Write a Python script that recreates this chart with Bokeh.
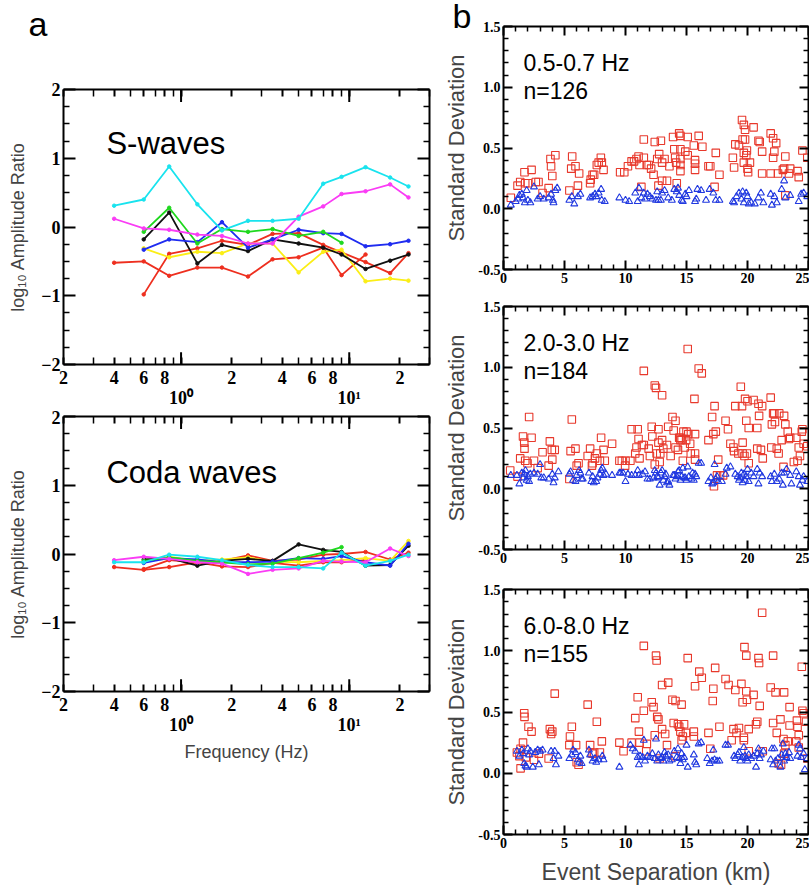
from bokeh.plotting import figure
from bokeh.models import (FixedTicker, LinearAxis, LogAxis, Label, CustomJSTickFormatter,
                          NumeralTickFormatter, Range1d, Title)
from bokeh.layouts import row, column
from bokeh.embed import file_html
from bokeh.resources import INLINE

NaN = float("nan")

# ---------------- panel a : amplitude ratios ----------------
freq = [0.4, 0.6, 0.85, 1.25, 1.75, 2.5, 3.5, 5.0, 7.0, 9.0, 12.5, 17.5, 22.5]

s_cyan = [0.31, 0.40, 0.88, 0.33, -0.05, 0.09, 0.09, 0.12, 0.63, 0.73, 0.87, 0.72, 0.59]
s_magenta = [0.12, -0.02, -0.04, -0.11, -0.13, -0.24, -0.24, 0.15, 0.30, 0.48, 0.52, 0.62, 0.43]
s_green = [NaN, -0.07, 0.28, -0.24, -0.03, -0.07, -0.03, -0.13, -0.07, -0.23, NaN, NaN, NaN]
s_black = [NaN, -0.18, 0.21, -0.53, -0.26, -0.35, -0.18, -0.24, -0.30, -0.40, -0.61, -0.49, -0.40]
s_blue = [NaN, -0.33, -0.18, -0.22, 0.07, -0.30, -0.18, -0.04, -0.09, -0.10, -0.28, -0.25, -0.20]
s_yellow = [NaN, -0.31, -0.44, -0.36, -0.38, -0.24, -0.24, -0.66, -0.36, -0.33, -0.79, -0.75, -0.78]
s_red1 = [-0.52, -0.50, -0.71, -0.59, -0.59, -0.72, -0.47, -0.44, -0.30, -0.70, -0.40, NaN, NaN]
s_red2 = [NaN, -0.98, -0.39, -0.31, -0.20, -0.26, -0.10, -0.09, -0.26, -0.37, -0.51, -0.67, -0.38]

c_cyan = [-0.12, -0.12, -0.01, -0.04, -0.09, -0.16, -0.19, -0.19, -0.21, 0.02, -0.17, -0.10, -0.01]
c_magenta = [-0.09, -0.04, -0.07, -0.12, -0.14, -0.29, -0.23, -0.21, -0.10, -0.11, -0.12, 0.08, -0.03]
c_green = [NaN, -0.10, -0.05, -0.10, -0.12, -0.15, -0.14, -0.06, 0.02, 0.10, NaN, NaN, NaN]
c_black = [NaN, -0.08, -0.06, -0.17, -0.10, -0.07, -0.10, 0.14, 0.06, 0.03, -0.17, -0.16, 0.12]
c_blue = [NaN, -0.13, -0.06, -0.08, -0.12, -0.12, -0.11, -0.06, -0.07, -0.03, -0.12, -0.17, 0.15]
c_yellow = [NaN, -0.12, -0.04, -0.10, -0.08, -0.05, -0.11, -0.12, -0.10, -0.09, -0.06, -0.10, 0.19]
c_red1 = [-0.19, -0.23, -0.19, -0.12, -0.18, -0.19, -0.13, -0.17, -0.12, -0.12, -0.09, NaN, NaN]
c_red2 = [NaN, -0.22, -0.09, -0.12, -0.10, -0.02, -0.10, -0.08, -0.01, 0.00, 0.03, -0.08, 0.02]

line_colors = {"cyan": "#19e3ee", "magenta": "#fa3cf5", "green": "#1ed81e", "black": "#111111",
               "blue": "#1f2cf0", "yellow": "#fbee16", "red1": "#ee2f1f", "red2": "#ee2f1f"}

s_waves = {"cyan": s_cyan, "magenta": s_magenta, "green": s_green, "black": s_black,
           "blue": s_blue, "yellow": s_yellow, "red1": s_red1, "red2": s_red2}
coda_waves = {"cyan": c_cyan, "magenta": c_magenta, "green": c_green, "black": c_black,
              "blue": c_blue, "yellow": c_yellow, "red1": c_red1, "red2": c_red2}

freq_label_ticks = [0.2, 0.4, 0.6, 0.8, 1, 2, 4, 6, 8, 10, 20]
freq_minor_ticks = [0.3, 0.5, 0.7, 0.9, 3, 5, 7, 9, 30]
freq_decades = [1, 10]
amp_major_ticks = [-2, -1, 0, 1, 2]
amp_minor_ticks = [-1.75, -1.5, -1.25, -0.75, -0.5, -0.25, 0.25, 0.5, 0.75, 1.25, 1.5, 1.75]

# ---------------- panel b : standard deviations ----------------
p1_red = [(0.6, 0.09), (1.15, 0.19), (1.37, 0.22), (1.72, 0.30), (1.78, 0.21), (2.0, 0.21), (2.3, 0.32),
          (2.65, 0.22), (2.87, 0.22), (3.2, 0.13), (3.7, 0.17), (3.85, 0.41), (3.9, 0.35), (4.0, 0.27),
          (4.25, 0.44), (5.4, 0.15), (5.55, 0.33), (5.63, 0.43), (5.9, 0.35), (6.1, 0.19), (6.2, 0.29),
          (7.1, 0.21), (7.15, 0.24), (7.3, 0.28), (7.43, 0.28), (7.65, 0.36), (7.8, 0.38), (7.98, 0.42),
          (8.06, 0.38), (8.2, 0.32), (9.56, 0.30), (9.9, 0.30), (10.2, 0.35), (10.5, 0.39), (10.7, 0.39),
          (10.9, 0.41), (11.07, 0.43), (11.15, 0.36), (11.3, 0.18), (11.5, 0.42), (11.5, 0.57), (11.75, 0.36),
          (11.9, 0.36), (12.1, 0.33), (12.3, 0.28), (12.4, 0.55), (12.6, 0.41), (12.7, 0.19), (12.76, 0.45),
          (12.9, 0.56), (13.0, 0.38), (13.0, 0.23), (13.2, 0.41), (13.4, 0.23), (13.6, 0.35), (13.9, 0.59),
          (14.0, 0.49), (14.07, 0.42), (14.15, 0.38), (14.2, 0.21), (14.4, 0.62), (14.5, 0.60), (14.5, 0.49),
          (14.5, 0.41), (14.5, 0.36), (14.5, 0.31), (14.9, 0.47), (15.1, 0.44), (15.1, 0.59), (15.6, 0.52),
          (15.7, 0.40), (15.7, 0.37), (15.7, 0.32), (16.0, 0.60), (16.3, 0.51), (16.8, 0.35), (16.95, 0.35),
          (17.3, 0.18), (17.4, 0.46), (17.7, 0.28), (18.8, 0.42), (18.9, 0.34), (19.0, 0.53), (19.3, 0.52),
          (19.55, 0.73), (19.7, 0.69), (19.6, 0.57), (19.8, 0.57), (19.7, 0.46), (19.7, 0.38), (19.8, 0.65),
          (19.9, 0.44), (19.95, 0.48), (20.0, 0.33), (20.05, 0.30), (20.2, 0.38), (20.5, 0.67), (20.9, 0.56),
          (21.0, 0.55), (21.2, 0.47), (21.2, 0.29), (21.9, 0.29), (21.9, 0.62), (22.1, 0.58), (22.2, 0.47),
          (22.1, 0.42), (22.35, 0.54), (22.5, 0.29), (22.9, 0.32), (23.0, 0.33), (23.1, 0.43), (23.1, 0.11),
          (23.4, 0.29), (23.5, 0.33), (24.1, 0.31), (24.2, 0.26), (24.5, 0.48), (24.9, 0.42)]
p1_blue = [(0.6, 0.03), (1.0, 0.06), (1.2, 0.08), (1.3, 0.11), (1.5, 0.12), (1.6, 0.09), (1.75, 0.05),
           (1.9, 0.15), (2.0, 0.07), (2.2, 0.05), (2.5, 0.18), (2.8, 0.08), (3.0, 0.10), (3.3, 0.08),
           (3.7, 0.09), (3.9, 0.12), (4.05, 0.07), (4.1, 0.05), (4.25, 0.15), (4.4, 0.17), (5.4, 0.07),
           (5.6, 0.10), (5.8, 0.04), (6.1, 0.10), (6.3, 0.12), (7.1, 0.09), (7.3, 0.10), (7.5, 0.12),
           (7.6, 0.10), (7.8, 0.13), (8.0, 0.16), (8.05, 0.07), (8.3, 0.06), (9.5, 0.09), (10.0, 0.07),
           (10.3, 0.06), (10.8, 0.13), (11.0, 0.06), (11.1, 0.17), (11.3, 0.09), (11.5, 0.13), (11.6, 0.08),
           (11.8, 0.12), (12.0, 0.10), (12.2, 0.08), (12.5, 0.07), (12.6, 0.14), (12.7, 0.07), (12.9, 0.07),
           (13.0, 0.13), (13.2, 0.15), (13.5, 0.09), (13.8, 0.07), (14.0, 0.16), (14.2, 0.14), (14.3, 0.17),
           (14.4, 0.11), (14.6, 0.07), (14.7, 0.06), (14.9, 0.12), (15.0, 0.10), (15.2, 0.15), (15.7, 0.06),
           (15.8, 0.08), (15.9, 0.16), (16.2, 0.15), (16.6, 0.07), (16.9, 0.16), (17.2, 0.13), (17.4, 0.07),
           (17.7, 0.07), (18.8, 0.06), (18.9, 0.05), (19.1, 0.10), (19.3, 0.13), (19.5, 0.08), (19.6, 0.14),
           (19.7, 0.05), (19.9, 0.13), (20.0, 0.10), (20.1, 0.04), (20.3, 0.05), (20.6, 0.04), (20.9, 0.09),
           (21.1, 0.13), (21.3, 0.05), (21.9, 0.12), (22.0, 0.03), (22.2, 0.10), (22.4, 0.05), (22.8, 0.16),
           (23.0, 0.23), (23.1, 0.09), (23.5, 0.11), (24.2, 0.06), (24.4, 0.12), (24.6, 0.13), (24.9, 0.10)]

p2_red = [(0.55, 0.15), (1.15, 0.10), (1.37, 0.25), (1.6, 0.43), (1.7, 0.38), (1.72, 0.33), (1.78, 0.23),
          (1.97, 0.21), (2.1, 0.59), (2.3, 0.42), (2.5, 0.23), (2.8, 0.17), (3.2, 0.30), (3.7, 0.19),
          (3.8, 0.39), (3.96, 0.32), (4.0, 0.24), (4.2, 0.32), (5.4, 0.08), (5.5, 0.31), (5.6, 0.57),
          (5.9, 0.33), (6.0, 0.19), (6.15, 0.21), (6.9, 0.27), (7.1, 0.33), (7.25, 0.19), (7.3, 0.21),
          (7.5, 0.25), (7.65, 0.29), (7.9, 0.23), (8.0, 0.42), (8.2, 0.32), (8.3, 0.23), (8.9, 0.37),
          (9.5, 0.23), (9.7, 0.23), (9.97, 0.19), (10.0, 0.23), (10.4, 0.23), (10.5, 0.49), (10.8, 0.29),
          (10.9, 0.34), (11.0, 0.49), (11.07, 0.41), (11.15, 0.25), (11.35, 0.36), (11.5, 0.97), (11.5, 0.36),
          (11.9, 0.33), (12.0, 0.27), (12.15, 0.51), (12.2, 0.43), (12.4, 0.20), (12.4, 0.85), (12.5, 0.83),
          (12.55, 0.29), (12.7, 0.38), (12.7, 0.49), (12.8, 0.22), (12.85, 0.29), (13.0, 0.77), (13.0, 0.40),
          (13.1, 0.33), (13.4, 0.36), (13.5, 0.51), (13.7, 0.27), (13.85, 0.59), (13.95, 0.48), (14.1, 0.34),
          (14.1, 0.56), (14.3, 0.32), (14.4, 0.42), (14.5, 0.42), (14.5, 0.40), (14.6, 0.41), (14.7, 0.23),
          (14.75, 0.47), (14.85, 0.34), (14.97, 0.40), (15.0, 0.47), (15.1, 1.15), (15.15, 0.45), (15.3, 0.37),
          (15.35, 0.29), (15.65, 0.74), (15.7, 0.29), (15.7, 0.24), (15.7, 0.45), (16.0, 0.99), (16.25, 0.95),
          (16.8, 0.40), (17.1, 0.59), (17.2, 0.45), (17.3, 0.68), (17.4, 0.47), (17.6, 0.24), (18.2, 0.56),
          (18.4, 0.49), (18.6, 0.37), (18.85, 0.34), (18.9, 0.31), (19.0, 0.68), (19.25, 0.29), (19.45, 0.84),
          (19.55, 0.68), (19.6, 0.38), (19.6, 0.29), (19.75, 0.27), (19.8, 0.74), (19.9, 0.56), (19.95, 0.29),
          (20.0, 0.72), (20.1, 0.50), (20.1, 0.21), (20.5, 0.73), (20.8, 0.50), (20.8, 0.33), (20.9, 0.70),
          (20.95, 0.60), (21.1, 0.32), (21.2, 0.68), (21.25, 0.25), (21.9, 0.75), (21.95, 0.34), (22.0, 0.53),
          (22.1, 0.62), (22.2, 0.62), (22.25, 0.55), (22.4, 0.33), (22.55, 0.29), (22.6, 0.62), (22.8, 0.40),
          (22.95, 0.18), (23.0, 0.60), (23.1, 0.53), (23.3, 0.47), (23.4, 0.41), (23.5, 0.42), (23.8, 0.22),
          (24.0, 0.42), (24.1, 0.23), (24.2, 0.34), (24.3, 0.27), (24.45, 0.47), (24.5, 0.49), (24.6, 0.37),
          (24.9, 0.35), (17.25, 0.02), (17.5, 0.11), (17.75, 0.11), (18.0, 0.11)]
p2_blue = [(0.6, 0.11), (1.1, 0.11), (1.3, 0.04), (1.5, 0.13), (1.6, 0.09), (1.7, 0.12), (1.8, 0.15),
           (1.9, 0.07), (2.0, 0.10), (2.1, 0.06), (2.2, 0.12), (2.5, 0.13), (2.8, 0.12), (3.0, 0.20),
           (3.1, 0.09), (3.3, 0.09), (3.7, 0.08), (4.0, 0.12), (4.1, 0.05), (4.2, 0.09), (4.5, 0.14),
           (5.4, 0.12), (5.5, 0.14), (5.7, 0.07), (5.9, 0.06), (6.0, 0.11), (6.2, 0.15), (6.3, 0.13),
           (6.4, 0.08), (6.5, 0.08), (7.0, 0.13), (7.2, 0.06), (7.3, 0.10), (7.4, 0.05), (7.6, 0.06),
           (7.7, 0.09), (7.9, 0.12), (8.0, 0.15), (8.1, 0.17), (8.2, 0.11), (8.4, 0.12), (8.9, 0.11),
           (9.5, 0.13), (9.6, 0.13), (9.8, 0.13), (10.0, 0.06), (10.2, 0.12), (10.5, 0.11), (10.8, 0.11),
           (11.0, 0.15), (11.1, 0.11), (11.4, 0.12), (11.6, 0.14), (11.8, 0.08), (12.0, 0.08), (12.3, 0.09),
           (12.4, 0.15), (12.5, 0.13), (12.6, 0.10), (12.7, 0.09), (12.8, 0.03), (12.9, 0.13), (13.0, 0.15),
           (13.1, 0.07), (13.2, 0.10), (13.3, 0.12), (13.4, 0.05), (13.5, 0.06), (13.6, 0.03), (13.9, 0.11),
           (14.0, 0.11), (14.1, 0.08), (14.2, 0.10), (14.3, 0.14), (14.4, 0.15), (14.5, 0.07), (14.6, 0.10),
           (14.7, 0.17), (14.8, 0.09), (14.9, 0.09), (15.0, 0.07), (15.1, 0.18), (15.2, 0.10), (15.4, 0.08),
           (15.5, 0.13), (15.6, 0.07), (15.7, 0.12), (15.8, 0.10), (16.0, 0.21), (16.2, 0.21), (16.8, 0.06),
           (17.0, 0.09), (17.1, 0.04), (17.2, 0.05), (17.3, 0.20), (17.4, 0.08), (17.5, 0.10), (17.6, 0.06),
           (17.9, 0.06), (18.2, 0.12), (18.3, 0.17), (18.6, 0.18), (19.0, 0.12), (19.2, 0.10), (19.3, 0.07),
           (19.4, 0.09), (19.5, 0.13), (19.6, 0.05), (19.7, 0.12), (19.8, 0.07), (19.9, 0.10), (20.0, 0.16),
           (20.1, 0.06), (20.3, 0.13), (20.5, 0.10), (20.8, 0.16), (20.9, 0.04), (21.0, 0.13), (21.2, 0.10),
           (21.9, 0.10), (22.0, 0.06), (22.2, 0.12), (22.4, 0.06), (22.6, 0.08), (22.8, 0.13), (22.9, 0.03),
           (23.0, 0.13), (23.2, 0.16), (23.5, 0.11), (23.6, 0.04), (24.0, 0.14), (24.2, 0.10), (24.3, 0.03),
           (24.5, 0.07), (24.6, 0.10), (24.9, 0.06)]

p3_red = [(1.1, 0.17), (1.3, 0.14), (1.4, 0.20), (1.4, 0.04), (1.6, 0.25), (1.7, 0.49), (1.72, 0.46),
          (1.83, 0.13), (2.05, 0.38), (2.3, 0.34), (2.5, 0.11), (2.9, 0.16), (3.7, 0.12), (3.8, 0.36),
          (3.9, 0.32), (4.0, 0.34), (4.2, 0.65), (5.4, 0.23), (5.45, 0.30), (5.6, 0.38), (5.95, 0.23),
          (6.0, 0.09), (6.15, 0.07), (6.9, 0.56), (7.1, 0.23), (7.3, 0.16), (7.43, 0.17), (7.65, 0.42),
          (7.9, 0.17), (8.06, 0.26), (9.5, 0.25), (9.84, 0.18), (10.5, 0.25), (10.8, 0.45), (11.0, 0.62),
          (11.1, 0.34), (11.15, 0.25), (11.5, 0.51), (11.5, 1.04), (11.7, 0.18), (11.75, 0.24), (12.15, 0.58),
          (12.3, 0.54), (12.4, 0.31), (12.5, 0.96), (12.55, 0.92), (12.6, 0.46), (12.7, 0.44), (12.8, 0.12),
          (13.0, 0.72), (13.0, 0.36), (13.25, 0.32), (13.4, 0.23), (13.5, 0.74), (13.85, 0.60), (13.95, 0.41),
          (14.1, 0.14), (14.1, 0.59), (14.3, 0.40), (14.4, 0.38), (14.5, 0.34), (14.6, 0.27), (14.6, 0.56),
          (14.7, 0.30), (14.8, 0.40), (14.95, 0.33), (15.1, 0.94), (15.6, 0.34), (15.6, 0.30), (15.7, 0.71),
          (16.05, 0.83), (16.25, 0.78), (16.8, 0.33), (16.95, 0.20), (17.15, 0.59), (17.2, 0.69), (17.35, 0.86),
          (17.7, 0.38), (18.2, 0.77), (18.45, 0.72), (18.7, 0.27), (18.85, 0.36), (19.0, 0.68), (19.1, 0.33),
          (19.3, 0.37), (19.5, 0.73), (19.6, 0.58), (19.7, 0.27), (19.7, 0.29), (19.75, 1.03), (19.9, 0.67),
          (19.9, 0.96), (19.95, 0.60), (20.1, 0.36), (20.1, 0.18), (20.5, 0.64), (20.7, 0.40), (20.8, 0.42),
          (20.9, 0.94), (20.95, 0.90), (21.0, 0.55), (21.2, 1.31), (21.25, 0.18), (21.9, 0.70), (22.1, 0.41),
          (22.1, 0.96), (22.3, 0.66), (22.4, 0.33), (22.55, 0.08), (22.7, 0.44), (22.75, 0.07), (22.95, 0.28),
          (23.0, 0.66), (23.1, 0.23), (23.3, 0.26), (23.45, 0.54), (23.45, 0.39), (24.0, 0.26), (24.05, 0.43),
          (24.1, 0.38), (24.2, 0.31), (24.45, 0.87), (24.5, 0.51), (24.6, 0.49), (24.8, 0.42), (24.9, 0.12),
          (24.2, 0.21), (23.0, 0.16)]
p3_blue = [(1.1, 0.18), (1.3, 0.14), (1.5, 0.19), (1.6, 0.16), (1.7, 0.08), (1.8, 0.06), (1.9, 0.05),
           (2.0, 0.20), (2.1, 0.15), (2.2, 0.18), (2.4, 0.05), (2.6, 0.17), (2.8, 0.19), (2.9, 0.07),
           (3.0, 0.18), (3.2, 0.19), (3.9, 0.18), (4.1, 0.12), (4.2, 0.18), (4.3, 0.07), (4.5, 0.14),
           (5.4, 0.12), (5.6, 0.15), (5.7, 0.19), (5.9, 0.17), (6.1, 0.11), (6.2, 0.09), (6.3, 0.14),
           (6.4, 0.08), (7.0, 0.19), (7.1, 0.15), (7.3, 0.10), (7.5, 0.12), (7.6, 0.09), (7.8, 0.11),
           (8.1, 0.14), (8.2, 0.11), (9.5, 0.05), (10.4, 0.23), (10.6, 0.20), (10.8, 0.18), (11.0, 0.13),
           (11.1, 0.07), (11.2, 0.14), (11.4, 0.13), (11.5, 0.27), (11.6, 0.10), (11.8, 0.14), (12.0, 0.13),
           (12.2, 0.16), (12.4, 0.12), (12.5, 0.28), (12.6, 0.10), (12.7, 0.15), (12.9, 0.12), (13.0, 0.13),
           (13.1, 0.10), (13.2, 0.17), (13.3, 0.14), (13.5, 0.15), (13.6, 0.10), (13.8, 0.11), (14.0, 0.18),
           (14.2, 0.13), (14.3, 0.20), (14.4, 0.12), (14.5, 0.08), (14.6, 0.16), (14.7, 0.11), (14.8, 0.13),
           (15.0, 0.23), (15.1, 0.05), (15.6, 0.15), (15.7, 0.09), (15.8, 0.07), (16.0, 0.24), (16.2, 0.25),
           (16.7, 0.12), (16.9, 0.08), (17.1, 0.10), (17.2, 0.19), (17.3, 0.11), (17.5, 0.10), (17.7, 0.10),
           (18.2, 0.23), (18.4, 0.23), (18.9, 0.14), (19.0, 0.12), (19.2, 0.15), (19.3, 0.17), (19.4, 0.10),
           (19.6, 0.13), (19.7, 0.21), (19.8, 0.14), (19.9, 0.12), (20.0, 0.10), (20.1, 0.15), (20.3, 0.12),
           (20.5, 0.14), (20.7, 0.05), (20.8, 0.16), (20.9, 0.20), (21.0, 0.12), (21.1, 0.15), (21.3, 0.18),
           (21.9, 0.11), (22.0, 0.20), (22.1, 0.07), (22.2, 0.20), (22.3, 0.10), (22.5, 0.12), (22.7, 0.05),
           (22.8, 0.15), (22.9, 0.24), (23.0, 0.10), (23.1, 0.16), (23.2, 0.13), (23.4, 0.17), (23.5, 0.12),
           (24.1, 0.14), (24.2, 0.23), (24.3, 0.20), (24.4, 0.13), (24.6, 0.16), (24.7, 0.03), (24.9, 0.12)]

bands = ["0.5-0.7 Hz", "2.0-3.0 Hz", "6.0-8.0 Hz"]
counts = ["n=126", "n=184", "n=155"]

sep_major_ticks = [0, 5, 10, 15, 20, 25]
sep_minor_ticks = [1, 2, 3, 4, 6, 7, 8, 9, 11, 12, 13, 14, 16, 17, 18, 19, 21, 22, 23, 24]
sd_major_ticks = [-0.5, 0.0, 0.5, 1.0, 1.5]
sd_minor_ticks = [-0.4, -0.3, -0.2, -0.1, 0.1, 0.2, 0.3, 0.4, 0.6, 0.7, 0.8, 0.9,
                  1.1, 1.2, 1.3, 1.4]

SERIF = "Liberation Serif"
SANS = "Liberation Sans"
SQ_RED = "#e8392c"
TRI_BLUE = "#2139e0"

FREQ_FMT = r"""
if (Math.abs(tick - 1) < 1e-9) { return "\n10\u2070"; }
if (Math.abs(tick - 10) < 1e-9) { return "\n10\u00b9"; }
const v = tick < 1 ? tick * 10 : (tick < 10 ? tick : tick / 10);
return Math.round(v).toString();
"""


def style_axis(ax, maj, mnr, labels=True, size="18px"):
    ax.axis_line_width = 2
    ax.axis_line_color = "black"
    ax.major_tick_in = maj
    ax.major_tick_out = 0
    ax.minor_tick_in = mnr
    ax.minor_tick_out = 0
    ax.major_tick_line_width = 2
    ax.minor_tick_line_width = 1.5
    ax.major_tick_line_color = "black"
    ax.minor_tick_line_color = "black"
    if labels:
        ax.major_label_text_font = SERIF
        ax.major_label_text_font_style = "bold"
        ax.major_label_text_font_size = size
        ax.major_label_text_color = "black"
        ax.major_label_standoff = 3
    else:
        ax.formatter = CustomJSTickFormatter(code="return ''")
        ax.major_label_text_font_size = "0px"
        ax.major_label_standoff = 0


def left_panel(series, title, title_y, top_b, bottom_b, xlabel=None, letter=None):
    p = figure(x_axis_type="log", x_range=Range1d(0.2, 30), y_range=Range1d(-2, 2),
               frame_width=366, frame_height=275, min_border_left=63, min_border_right=12,
               min_border_top=top_b, min_border_bottom=bottom_b,
               output_backend="svg", toolbar_location=None)
    p.grid.visible = False
    p.outline_line_color = None

    p.xaxis.ticker = FixedTicker(ticks=freq_label_ticks, minor_ticks=freq_minor_ticks)
    p.xaxis.formatter = CustomJSTickFormatter(code=FREQ_FMT)
    style_axis(p.xaxis[0], 7, 7, size="18px")
    p.xaxis.major_label_text_line_height = 1.0
    p.yaxis.ticker = FixedTicker(ticks=amp_major_ticks, minor_ticks=amp_minor_ticks)
    style_axis(p.yaxis[0], 12, 6, size="18px")
    p.yaxis.axis_label = "log\u2081\u2080 Amplitude Ratio"
    p.yaxis.axis_label_text_font = SANS
    p.yaxis.axis_label_text_font_style = "normal"
    p.yaxis.axis_label_text_font_size = "18px"
    p.yaxis.axis_label_standoff = 10
    if xlabel:
        p.xaxis.axis_label = xlabel
        p.xaxis.axis_label_text_font = SANS
        p.xaxis.axis_label_text_font_style = "normal"
        p.xaxis.axis_label_text_font_size = "18px"
        p.xaxis.axis_label_standoff = 4

    top = LogAxis(ticker=FixedTicker(ticks=freq_label_ticks, minor_ticks=freq_minor_ticks))
    style_axis(top, 7, 7, labels=False)
    p.add_layout(top, "above")
    right = LinearAxis(ticker=FixedTicker(ticks=amp_major_ticks, minor_ticks=amp_minor_ticks))
    style_axis(right, 12, 6, labels=False)
    p.add_layout(right, "right")

    # longer decade ticks at 10^0 and 10^1
    p.segment(x0=freq_decades, y0=[-2, -2], x1=freq_decades, y1=[-1.82, -1.82],
              line_color="black", line_width=2)
    p.segment(x0=freq_decades, y0=[2, 2], x1=freq_decades, y1=[1.82, 1.82],
              line_color="black", line_width=2)

    for key in ["red1", "red2", "yellow", "black", "blue", "green", "magenta", "cyan"]:
        vals = series[key]
        p.line(freq, vals, line_color=line_colors[key], line_width=1.8)
        p.scatter(freq, vals, size=3.5, color=line_colors[key])

    p.add_layout(Label(x=0.36, y=title_y, text=title, text_font=SANS, text_font_size="31px",
                       text_baseline="alphabetic", text_color="black"))
    if letter:
        spacer = Title(text="\u00a0", text_font_size="10px", standoff=34)
        p.add_layout(spacer, "above")
        p.add_layout(Title(text=letter, align="left", offset=-35, standoff=0,
                           text_font=SANS, text_font_size="34px", text_font_style="normal",
                           text_color="black"), "above")
    return p


def right_panel(red, blue, band, count, top_b, bottom_b, fh, xlabel=None, letter=None):
    p = figure(x_range=Range1d(0, 25), y_range=Range1d(-0.5, 1.5),
               frame_width=305, frame_height=fh, min_border_left=62, min_border_right=1,
               min_border_top=top_b, min_border_bottom=bottom_b,
               output_backend="svg", toolbar_location=None)
    p.grid.visible = False
    p.outline_line_color = None
    p.xaxis.ticker = FixedTicker(ticks=sep_major_ticks, minor_ticks=sep_minor_ticks)
    style_axis(p.xaxis[0], 9, 5, size="14px")
    p.yaxis.ticker = FixedTicker(ticks=sd_major_ticks, minor_ticks=sd_minor_ticks)
    p.yaxis.formatter = NumeralTickFormatter(format="0.0")
    style_axis(p.yaxis[0], 9, 5, size="14px")
    p.yaxis.axis_label = "Standard Deviation"
    p.yaxis.axis_label_text_font = SANS
    p.yaxis.axis_label_text_font_style = "normal"
    p.yaxis.axis_label_text_font_size = "22px"
    p.yaxis.axis_label_standoff = 6
    if xlabel:
        p.xaxis.axis_label = xlabel
        p.xaxis.axis_label_text_font = SANS
        p.xaxis.axis_label_text_font_style = "normal"
        p.xaxis.axis_label_text_font_size = "23px"
        p.xaxis.axis_label_standoff = 8

    top = LinearAxis(ticker=FixedTicker(ticks=sep_major_ticks, minor_ticks=sep_minor_ticks))
    style_axis(top, 9, 5, labels=False)
    p.add_layout(top, "above")
    right = LinearAxis(ticker=FixedTicker(ticks=sd_major_ticks, minor_ticks=sd_minor_ticks))
    style_axis(right, 9, 5, labels=False)
    p.add_layout(right, "right")

    p.scatter([a for a, b in red], [b for a, b in red], marker="square", size=7.5,
              fill_color=None, line_color=SQ_RED, line_width=1.1)
    p.scatter([a for a, b in blue], [b for a, b in blue], marker="triangle", size=7,
              fill_color=None, line_color=TRI_BLUE, line_width=1.1)

    p.add_layout(Label(x=1.64, y=1.2, text=band, text_font=SANS, text_font_size="23px",
                       text_baseline="alphabetic", text_color="black"))
    p.add_layout(Label(x=1.64, y=0.97, text=count, text_font=SANS, text_font_size="23px",
                       text_baseline="alphabetic", text_color="black"))
    if letter:
        p.add_layout(Title(text=letter, align="left", offset=-51, standoff=-16,
                           text_font=SANS, text_font_size="34px", text_font_style="normal",
                           text_color="black"), "above")
    return p


L1 = left_panel(s_waves, "S-waves", 1.21, 89, 44, letter="a")
L2 = left_panel(coda_waves, "Coda waves", 1.19, 6, 81, xlabel="Frequency (Hz)")

R1 = right_panel(p1_red, p1_blue, bands[0], counts[0], 26, 21, 243, letter="b")
R2 = right_panel(p2_red, p2_blue, bands[1], counts[1], 16, 21, 243)
R3 = right_panel(p3_red, p3_blue, bands[2], counts[2], 19, 50, 245, xlabel="Event Separation (km)")

layout = row(column(L1, L2, spacing=0), column(R1, R2, R3, spacing=0), spacing=0)

open("out.html", "w").write(file_html(layout, INLINE))
